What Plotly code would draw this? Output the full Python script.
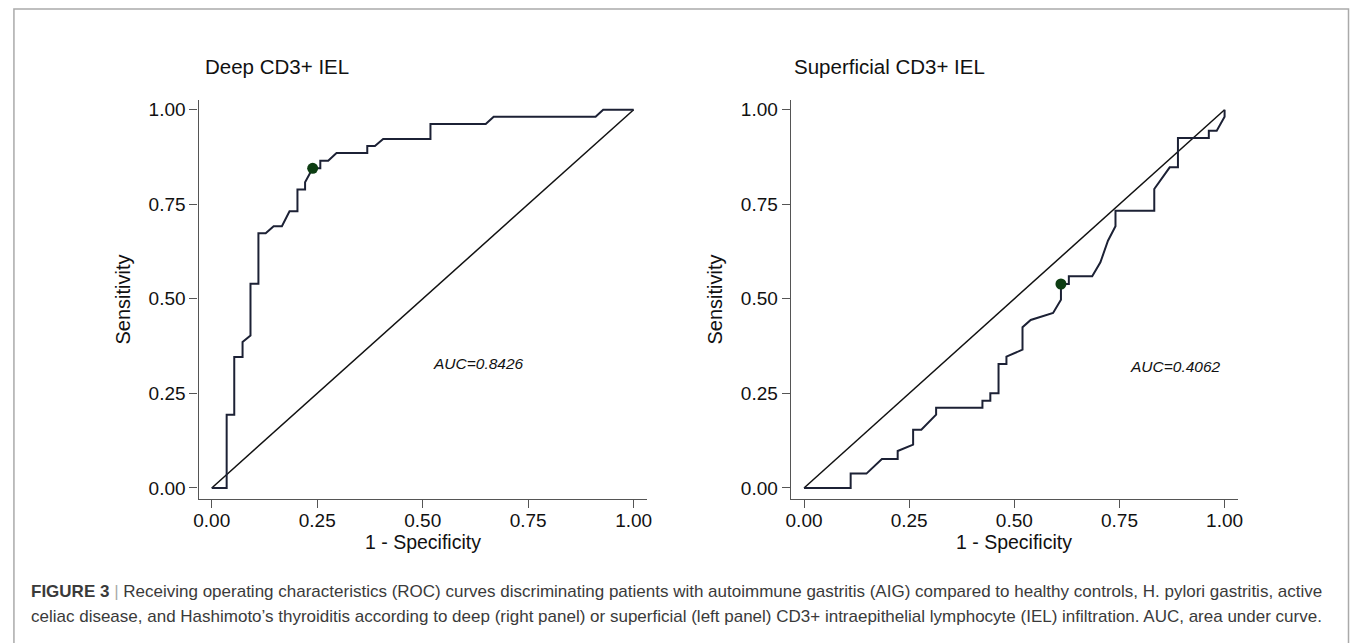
import plotly.graph_objects as go

W, H = 1355, 643

# ---- data ----
deep_fpr = [0.0, 0.0353, 0.0353, 0.0533, 0.0533, 0.073, 0.073, 0.0918, 0.0918, 0.1106, 0.1106,
            0.1278, 0.1467, 0.1663, 0.1843, 0.2031, 0.2031, 0.2212, 0.2212, 0.2392, 0.2573, 0.2573,
            0.276, 0.2957, 0.3686, 0.3686, 0.3867, 0.4063, 0.5184, 0.5184, 0.6494, 0.6682, 0.9098,
            0.9278, 1.0]
deep_tpr = [0.0, 0.0, 0.1937, 0.1937, 0.346, 0.346, 0.3856, 0.403, 0.5396, 0.5396, 0.6734,
            0.6734, 0.692, 0.692, 0.7315, 0.7315, 0.7887, 0.7887, 0.808, 0.845, 0.845, 0.8653,
            0.8653, 0.8856, 0.8856, 0.904, 0.904, 0.9225, 0.9225, 0.9622, 0.9622, 0.9815, 0.9815,
            1.0, 1.0]
deep_cut = (0.2392, 0.845)
deep_auc = "AUC=0.8426"

sup_fpr = [0.0, 0.1109, 0.1109, 0.1484, 0.1852, 0.2227, 0.2227, 0.2594, 0.2594, 0.2789, 0.3141,
           0.3141, 0.4242, 0.4242, 0.443, 0.443, 0.4625, 0.4625, 0.4813, 0.4813, 0.5195, 0.5195,
           0.539, 0.5922, 0.6109, 0.6109, 0.6297, 0.6297, 0.6852, 0.7047, 0.7227, 0.7406, 0.7406,
           0.8328, 0.8328, 0.8695, 0.8891, 0.8891, 0.9625, 0.9625, 0.9813, 1.0, 1.0]
sup_tpr = [0.0, 0.0, 0.0379, 0.0379, 0.0767, 0.0767, 0.0978, 0.1145, 0.1542, 0.1542, 0.1938,
           0.2123, 0.2123, 0.2308, 0.2308, 0.2502, 0.2502, 0.3278, 0.3278, 0.3471, 0.3656, 0.4247,
           0.444, 0.4626, 0.4978, 0.5392, 0.5392, 0.5595, 0.5595, 0.5965, 0.6537, 0.6916, 0.733,
           0.733, 0.7903, 0.8476, 0.8476, 0.9251, 0.9251, 0.9445, 0.9445, 0.9815, 1.0]
sup_cut = (0.6109, 0.5392)
sup_auc = "AUC=0.4062"

ref_line = [0.0, 1.0]
tick_vals = [0.0, 0.25, 0.5, 0.75, 1.0]
tick_text = ["0.00", "0.25", "0.50", "0.75", "1.00"]

titles = ["Deep CD3+ IEL", "Superficial CD3+ IEL"]
x_title = "1 - Specificity"
y_title = "Sensitivity"
caption1 = ("<b>FIGURE 3</b> <span style='color:#aaaaaa'>|</span> Receiving operating characteristics (ROC) "
            "curves discriminating patients with autoimmune gastritis (AIG) compared to healthy controls, "
            "H. pylori gastritis, active")
caption2 = ("celiac disease, and Hashimoto\u2019s thyroiditis according to deep (right panel) or superficial "
            "(left panel) CD3+ intraepithelial lymphocyte (IEL) infiltration. AUC, area under curve.")

FONT = "Liberation Sans, Arial, sans-serif"
CURVE = "#1c2135"
DOT = "#0d3d12"
TXT = "#111111"

fig = go.Figure()

panels = [
    (deep_fpr, deep_tpr, deep_cut, "x", "y"),
    (sup_fpr, sup_tpr, sup_cut, "x2", "y2"),
]
for fpr, tpr, cut, xa, ya in panels:
    fig.add_trace(go.Scatter(x=ref_line, y=ref_line, mode="lines", xaxis=xa, yaxis=ya,
                             line=dict(color="#111111", width=1.5), showlegend=False, hoverinfo="skip"))
    fig.add_trace(go.Scatter(x=fpr, y=tpr, mode="lines", xaxis=xa, yaxis=ya,
                             line=dict(color=CURVE, width=2), showlegend=False))
    fig.add_trace(go.Scatter(x=[cut[0]], y=[cut[1]], mode="markers", xaxis=xa, yaxis=ya,
                             marker=dict(color=DOT, size=11), showlegend=False, cliponaxis=False))


def px_x(p):
    return p / W


def px_y(p):
    return 1 - p / H


axis_common = dict(
    range=[-0.0313, 1.0315], showgrid=False, zeroline=False, showline=True,
    linecolor="#555555", linewidth=1.4, ticks="outside", ticklen=8, tickwidth=1.3,
    tickcolor="#555555", tickvals=tick_vals, ticktext=tick_text,
    tickfont=dict(family=FONT, size=19, color=TXT),
)
yaxis_common = dict(axis_common)
yaxis_common["range"] = [-0.0298, 1.026]

ytitle = dict(text=y_title, font=dict(family=FONT, size=20, color=TXT), standoff=12)

ydom = [px_y(499), px_y(99)]
fig.update_layout(
    width=W, height=H,
    margin=dict(l=0, r=0, t=0, b=0),
    paper_bgcolor="white", plot_bgcolor="white",
    xaxis=dict(axis_common, domain=[px_x(195), px_x(646.7)], anchor="y", ticklabelstandoff=-4),
    yaxis=dict(yaxis_common, domain=ydom, anchor="x", title=ytitle),
    xaxis2=dict(axis_common, domain=[px_x(791.7), px_x(1242)], anchor="y2", ticklabelstandoff=-4),
    yaxis2=dict(yaxis_common, domain=ydom, anchor="x2", title=ytitle),
)

# x-axis titles (placed as annotations to sit tight under the tick labels)
for xa in ["x", "x2"]:
    fig.add_annotation(text=x_title, x=0.5, y=px_y(542), xref=xa, yref="paper",
                       xanchor="center", yanchor="middle", showarrow=False,
                       font=dict(family=FONT, size=19.5, color=TXT))

# panel titles
for txt, xp in zip(titles, [199, 793]):
    fig.add_annotation(text=txt, x=px_x(xp), y=px_y(66), xref="paper", yref="paper",
                       xanchor="left", yanchor="middle", showarrow=False,
                       font=dict(family=FONT, size=20.5, color=TXT))

# AUC labels
fig.add_annotation(text="<i>" + deep_auc + "</i>", x=0.633, y=0.33, xref="x", yref="y",
                   xanchor="center", yanchor="middle", showarrow=False,
                   font=dict(family=FONT, size=15.5, color=TXT))
fig.add_annotation(text="<i>" + sup_auc + "</i>", x=0.883, y=0.32, xref="x2", yref="y2",
                   xanchor="center", yanchor="middle", showarrow=False,
                   font=dict(family=FONT, size=15.5, color=TXT))

# captions
for txt, yp in [(caption1, 591.7), (caption2, 616.7)]:
    fig.add_annotation(text=txt, x=px_x(24), y=px_y(yp), xref="paper", yref="paper",
                       xanchor="left", yanchor="middle", showarrow=False,
                       font=dict(family=FONT, size=17, color="#3a3a3a"))

# frame (open at bottom)
fig.add_shape(type="path", xref="paper", yref="paper",
              path=f"M {px_x(9)},0 L {px_x(9)},{px_y(8)} L {px_x(1353.5)},{px_y(8)} L {px_x(1353.5)},0",
              line=dict(color="#aaaaaa", width=1.5))

fig.write_html("out.html",
               config={"displayModeBar": False},
               post_script="document.body.style.margin='0';document.body.style.overflow='hidden';")
